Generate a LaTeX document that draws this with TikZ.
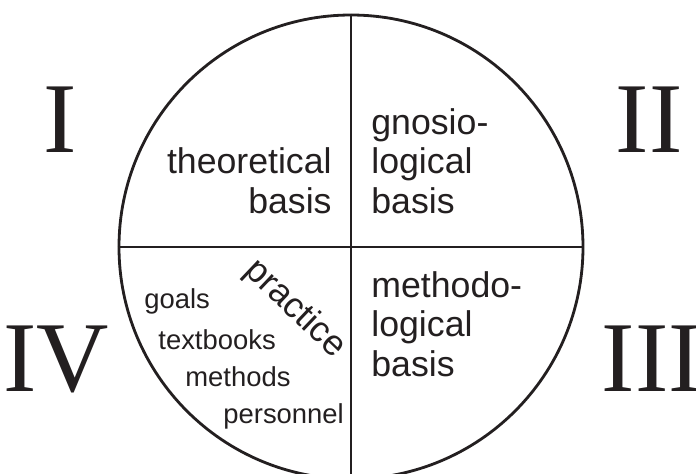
\documentclass[tikz,border=0pt]{standalone}
\usepackage{fontspec}
\setmainfont{Liberation Serif}
\setsansfont{Liberation Sans}
\definecolor{ink}{HTML}{231F20}
\begin{document}
\begin{tikzpicture}[ink, line width=1.6pt,
  basis/.style={font=\sffamily\fontsize{20.3}{22.2}\selectfont, inner sep=0pt},
  item/.style={font=\sffamily\fontsize{15.6}{18}\selectfont, inner sep=0pt, anchor=base west},
  numeral/.style={font=\fontsize{57}{60}\selectfont, inner sep=0pt, anchor=base}]
  \useasboundingbox (-7.02,-4.52) rectangle (6.90,4.94);
  \clip (-7.02,-4.52) rectangle (6.90,4.94);
  % the disc and its four quarters
  \node[circle, draw, minimum size=9.28cm, inner sep=0pt] (disc) at (0,0) {};
  \draw (disc.north) -- (disc.south); \draw (disc.west) -- (disc.east);
  % quarter texts (base = last line)
  \node[basis, align=right, anchor=base east] (theory) at (-0.36,0.68) {theoretical\\basis};
  \node[basis, align=left, anchor=base west] (gnosio) at (0.38,0.68) {gnosio-\\logical\\basis};
  \node[basis, align=left, anchor=base west] (methodo) at (0.38,-2.58) {methodo-\\logical\\basis};
  \node[basis, rotate=-43.5] (practice) at (-1.12,-1.24) {practice};
  \node[item] (goals) at (-4.16,-1.22) {goals};
  \node[item] (textbooks) at (-3.88,-2.04) {textbooks};
  \node[item] (methods) at (-3.34,-2.78) {methods};
  \node[item] (personnel) at (-2.58,-3.52) {personnel};
  % numerals
  \node[numeral] (one) at (-5.82,1.9) {I};
  \node[numeral] (two) at (5.96,1.9) {II};
  \node[numeral] (four) at (-5.9,-2.88) {IV};
  \node[numeral] (three) at (6.02,-2.88) {III};
\end{tikzpicture}
\end{document}
